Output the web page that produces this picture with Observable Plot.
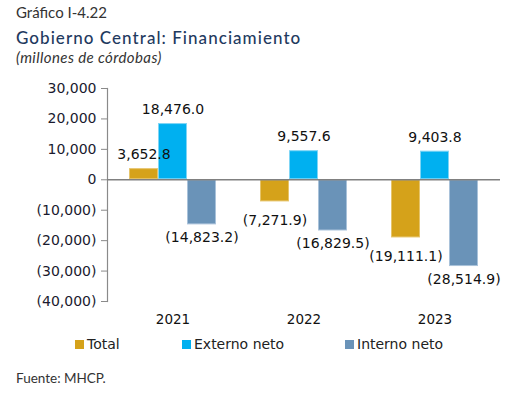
<!DOCTYPE html>
<html><head><meta charset="utf-8">
<script src="https://cdn.jsdelivr.net/npm/d3@7"></script>
<script src="https://cdn.jsdelivr.net/npm/@observablehq/plot@0.6"></script>
<style>
body{margin:0;background:#fff;width:510px;height:395px;overflow:hidden;position:relative;font-family:"DejaVu Sans",sans-serif}
.abs{position:absolute;white-space:nowrap}
#g{left:16px;top:3px;font:15px Lato,sans-serif;color:#333}
#t{left:16px;top:27px;font:500 17px Lato,sans-serif;letter-spacing:1.05px;color:#1F3A5F}
#s{left:16px;top:48px;font:italic 15px Lato,sans-serif;letter-spacing:0.4px;color:#333}
#chart{left:0;top:75px}
.lg{top:336px;font:14px "DejaVu Sans",sans-serif;color:#222;display:flex;align-items:center}
.sw{display:inline-block;width:9px;height:9px;margin-right:3px}
#f{left:16px;top:370px;font:13.5px Lato,sans-serif;color:#333}
</style></head><body>
<div class="abs" id="g">Gráfico I-4.22</div>
<div class="abs" id="t">Gobierno Central: Financiamiento</div>
<div class="abs" id="s">(millones de córdobas)</div>
<div class="abs" id="chart"></div>
<div id="legend"></div>
<div class="abs" id="f">Fuente: MHCP.</div>
<script>
const years = ["2021", "2022", "2023"];
const series = ["Total", "Externo neto", "Interno neto"];
const total = [3652.8, -7271.9, -19111.1];
const externo = [18476.0, 9557.6, 9403.8];
const interno = [-14823.2, -16829.5, -28514.9];
const yTicks = [30000, 20000, 10000, 0, -10000, -20000, -30000, -40000];
const colors = ["#D5A21A", "#00B0F0", "#6A93B8"];
const borders = ["#E6C46A", "#7FD5F5", "#A9C2DA"];

const valuesBySeries = [total, externo, interno];
const data = [];
years.forEach((yr, i) => series.forEach((s, j) => data.push({year: yr, series: s, value: valuesBySeries[j][i]})));

const f1 = d3.format(",.1f"), f0 = d3.format(",");
const fmtVal = v => v < 0 ? `(${f1(-v)})` : f1(v);
const fmtTick = v => v < 0 ? `(${f0(-v)})` : f0(v);

const chart = Plot.plot({
  width: 510, height: 262,
  marginLeft: 107, marginRight: 10, marginTop: 13, marginBottom: 36,
  style: {fontFamily: "DejaVu Sans, sans-serif", fontSize: "14px", color: "#1a1a2e", background: "transparent"},
  fx: {domain: years, padding: 0, label: null},
  x: {domain: series, paddingInner: 0, paddingOuter: 0.72, axis: null},
  y: {domain: [-40000, 30000], label: null},
  color: {domain: series, range: colors},
  marks: [
    Plot.frame({anchor: "left", facet: "super", stroke: "#8a8a8a", strokeWidth: 1.2}),
    Plot.axisY({ticks: yTicks, tickSize: 6, tickPadding: 5, tickFormat: fmtTick, fontSize: 14, label: null, stroke: "#8a8a8a", fill: "#1a1a2e"}),
    Plot.axisFx({anchor: "bottom", tickSize: 0, tickPadding: 13, fontSize: 13.5, label: null, fill: "#111"}),
    Plot.barY(data, {fx: "year", x: "series", y: "value", fill: "series",
      stroke: d => borders[series.indexOf(d.series)], strokeWidth: 1, inset: 0.5}),
    Plot.ruleY([0], {stroke: "#808080", strokeWidth: 1.5}),
    Plot.text(data.filter(d => d.value >= 0), {fx: "year", x: "series", y: "value", text: d => fmtVal(d.value), dy: -14, fontSize: 14, fill: "#111"}),
    Plot.text(data.filter(d => d.value < 0 && d.series !== "Total"), {fx: "year", x: "series", y: "value", text: d => fmtVal(d.value), dy: 13, fontSize: 14, fill: "#111"}),
    Plot.text(data.filter(d => d.value < 0 && d.series === "Total"), {fx: "year", x: "series", y: "value", text: d => fmtVal(d.value), dy: 19, fontSize: 14, fill: "#111"})
  ]
});
document.getElementById("chart").appendChild(chart);

const lgLeft = [75, 182, 345];
const lg = document.getElementById("legend");
series.forEach((s, i) => {
  const d = document.createElement("div");
  d.className = "abs lg";
  d.style.left = lgLeft[i] + "px";
  d.innerHTML = `<span class="sw" style="background:${colors[i]}"></span><span>${s}</span>`;
  lg.appendChild(d);
});
</script>
</body></html>
